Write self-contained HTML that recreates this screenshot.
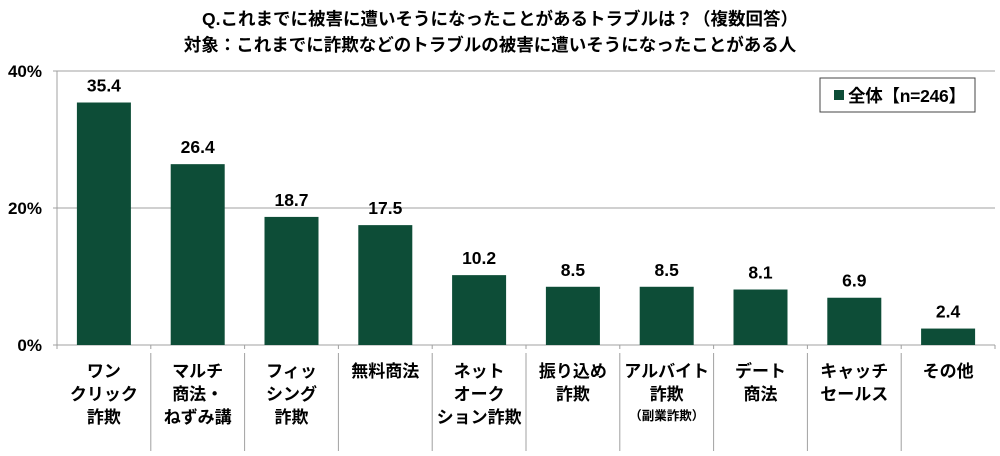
<!DOCTYPE html>
<html><head><meta charset="utf-8"><style>
body{margin:0;width:1000px;height:451px;background:#fff;overflow:hidden;font-family:"Liberation Sans","Noto Sans CJK JP",sans-serif}
svg text{font-family:"Liberation Sans","Noto Sans CJK JP",sans-serif;font-weight:bold}
</style></head><body>
<svg id="c" width="1000" height="451"></svg>
<script>
const categories=[["ワン","クリック","詐欺"],["マルチ","商法・","ねずみ講"],["フィッ","シング","詐欺"],["無料商法"],["ネット","オーク","ション詐欺"],["振り込め","詐欺"],["アルバイト","詐欺","（副業詐欺）"],["デート","商法"],["キャッチ","セールス"],["その他"]];
const values=[35.4,26.4,18.7,17.5,10.2,8.5,8.5,8.1,6.9,2.4];
const ticks=[0,20,40];
const tickLabels=["0%","20%","40%"];
const NS="http://www.w3.org/2000/svg";
const svg=document.getElementById('c');
const x0=57,cw=93.8,y0=345,ppu=6.85,bw=54;
const yS=v=>y0-v*ppu;
function el(t,a,txt){const e=document.createElementNS(NS,t);for(const k in a)e.setAttribute(k,a[k]);if(txt!=null)e.textContent=txt;svg.appendChild(e);return e;}
let e;
e=el('text',{x:500,y:25,'text-anchor':'middle','font-size':17.5},'Q.これまでに被害に遭いそうになったことがあるトラブルは？（複数回答）');


e=el('text',{x:490,y:51,'text-anchor':'middle','font-size':17.5},'対象：これまでに詐欺などのトラブルの被害に遭いそうになったことがある人');


ticks.forEach((t,i)=>{
 if(t>0){e=el('line',{x1:x0,x2:x0+cw*10,y1:yS(t),y2:yS(t),stroke:'#a0a0a0','stroke-width':1});
 
 }
 e=el('line',{x1:x0-4,x2:x0,y1:yS(t),y2:yS(t),stroke:'#a0a0a0'});
 
 
 e=el('text',{x:42,y:yS(t)+6,'text-anchor':'end','font-size':17,'font-weight':'normal'},tickLabels[i]);
 
 
});
e=el('line',{x1:x0,x2:x0,y1:yS(40),y2:y0,stroke:'#a0a0a0','stroke-width':1});


e=el('line',{x1:x0,x2:x0+cw*10,y1:y0,y2:y0,stroke:'#a0a0a0','stroke-width':1});


for(let i=0;i<=10;i++){const x=x0+cw*i;
 e=el('line',{x1:x,x2:x,y1:y0,y2:y0+4,stroke:'#a0a0a0'});
 
 
 if(i>0&&i<10){e=el('line',{x1:x,x2:x,y1:353,y2:451,stroke:'#a0a0a0'});
 
 }
}
values.forEach((v,i)=>{
 const cx=x0+cw*(i+0.5);
 e=el('rect',{x:cx-bw/2,y:yS(v),width:bw,height:y0-yS(v),fill:'#0d4d37'});
 
 
 e=el('text',{x:cx,y:yS(v)-11,'text-anchor':'middle','font-size':17.5,'font-weight':'normal'},v.toFixed(1));
 
 
 categories[i].forEach((l,j)=>{
  const small=l.startsWith('（');
  e=el('text',{x:cx,y:377+j*23-(small?3:0),'text-anchor':'middle','font-size':small?12.5:17},l);
  
  
 });
});
e=el('rect',{x:820,y:78,width:155,height:34,fill:'#fff',stroke:'#444'});


e=el('rect',{x:834,y:90,width:10,height:10,fill:'#0d4d37'});


e=el('text',{x:848,y:102,'font-size':17.5,textLength:118},'全体【n=246】');


</script>
</body></html>
